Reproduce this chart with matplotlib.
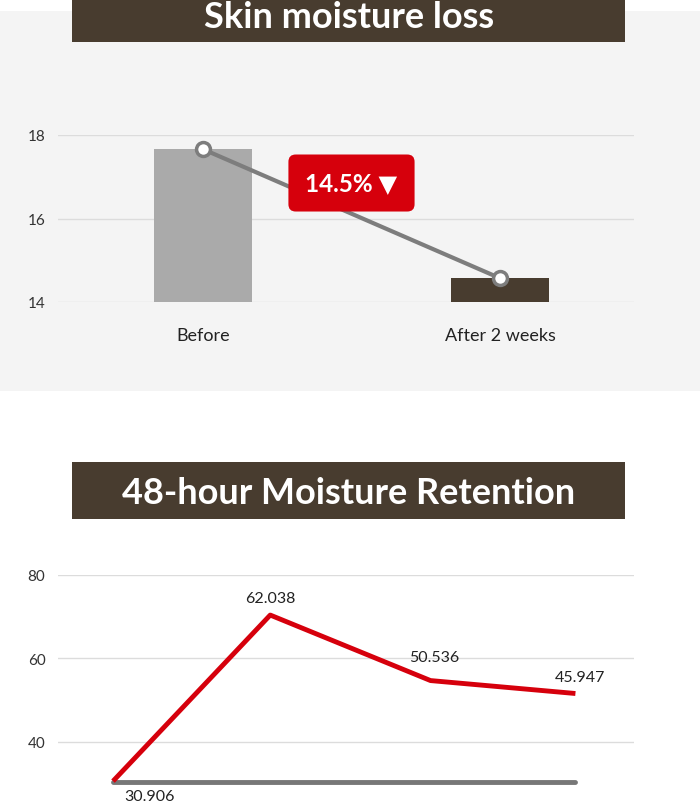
import matplotlib
matplotlib.use("Agg")
import matplotlib.pyplot as plt
from matplotlib.patches import Rectangle

plt.rcParams['font.family'] = ['Lato', 'DejaVu Sans']

# skin moisture loss
loss_labels = ['Before', 'After 2 weeks']
loss_values = [17.66, 14.57]
loss_badge = '14.5% \u25BC'

# 48-hour retention (plotted heights and printed labels)
ret_x = [0, 1.02, 2.06, 3]
ret_red = [30.6, 70.4, 54.7, 51.6]
ret_gray = [30.4, 30.4, 30.4, 30.4]
ret_text = ['30.906', '62.038', '50.536', '45.947']

W, H = 700, 803
brown = '#483c2f'
red = '#d6000c'

fig = plt.figure(figsize=(7, 8.03), dpi=100)
fig.patch.set_facecolor('white')

def fx(px):
    return px / W

def fy(py):
    return 1 - py / H

# gray panel behind the first chart
fig.patches.append(Rectangle((0, fy(392)), 1, fy(12) - fy(392), transform=fig.transFigure,
                             facecolor='#f4f4f4', edgecolor='none', zorder=-5))

# title bars
for top, bot, txt, cy in [(0, 43, 'Skin moisture loss', 18), (463, 520, '48-hour Moisture Retention', 494)]:
    fig.patches.append(Rectangle((fx(72), fy(bot)), fx(625) - fx(72), fy(top) - fy(bot),
                                 transform=fig.transFigure, facecolor=brown, edgecolor='none', zorder=1))
    fig.text(fx(349), fy(cy), txt, color='white', fontsize=26, fontweight='bold',
             ha='center', va='center', zorder=2)

# top chart
ax1 = fig.add_axes([fx(58), fy(303), fx(634) - fx(58), fy(136) - fy(303)])
ax1.set_facecolor('none')
xs = [0, 1]
ax1.bar(xs, [v - 14 for v in loss_values], bottom=14, width=0.33,
        color=['#aaaaaa', brown], zorder=2)
ax1.plot(xs, loss_values, color='#7d7d7d', lw=3, marker='o', ms=10,
         mfc='white', mec='#7d7d7d', mew=2.5, zorder=3)
ax1.set_xlim(-0.488, 1.451)
ax1.set_ylim(14, 18)
ax1.set_yticks([14, 16, 18])
ax1.set_xticks(xs)
ax1.set_xticklabels(loss_labels, fontsize=13, color='#222222')
ax1.tick_params(axis='x', length=0, pad=18)
ax1.tick_params(axis='y', length=0, pad=9, labelsize=11, labelcolor='#333333')
ax1.grid(axis='y', color='#dcdcdc', lw=1)
ax1.set_axisbelow(True)
for s in ax1.spines.values():
    s.set_visible(False)
ax1.text(0.50, 16.85, loss_badge, color='white', fontsize=17.5, fontweight='bold',
         ha='center', va='center', zorder=5,
         bbox=dict(boxstyle='round,pad=0.7,rounding_size=0.3', facecolor=red, edgecolor='none'))

# bottom chart
ax2 = fig.add_axes([fx(58), 0, fx(634) - fx(58), fy(576)])
ax2.set_facecolor('none')
ax2.plot(ret_x, ret_gray, color='#777777', lw=3.5, solid_capstyle='round', zorder=2)
ax2.plot(ret_x, ret_red, color=red, lw=3.5, solid_capstyle='butt', zorder=3)
offsets = [(26, -11), (0, 12), (3, 17), (3, 12)]
for x, y, t, off in zip(ret_x, ret_red, ret_text, offsets):
    ax2.annotate(t, (x, y), xytext=off, textcoords='offset points', ha='center',
                 va='center', fontsize=11.5, color='#222222', annotation_clip=False)
ax2.set_xlim(-0.357, 3.38)
ax2.set_ylim(25.6, 80)
ax2.set_yticks([40, 60, 80])
ax2.set_xticks([])
ax2.tick_params(axis='y', length=0, pad=9, labelsize=11, labelcolor='#333333')
ax2.grid(axis='y', color='#dcdcdc', lw=1)
ax2.set_axisbelow(True)
for s in ax2.spines.values():
    s.set_visible(False)

fig.savefig('out.png', dpi=100)
